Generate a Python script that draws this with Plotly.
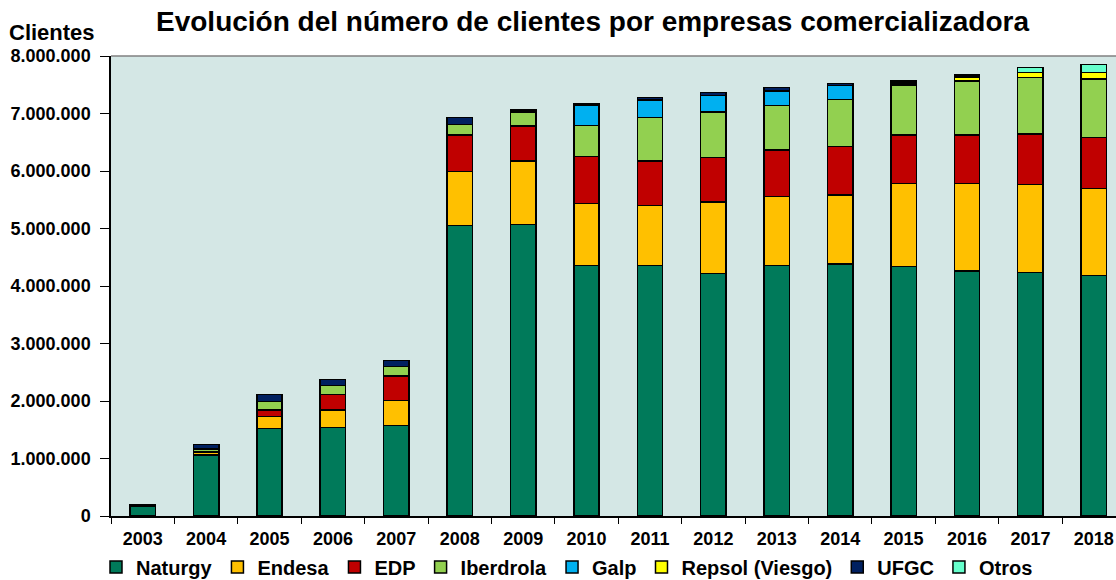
import plotly.graph_objects as go

years = [str(y) for y in range(2003, 2019)]

naturgy = [170000, 1060000, 1518000, 1543000, 1577000, 5055000, 5073000, 4360000,
           4353000, 4214000, 4360000, 4383000, 4336000, 4260000, 4238000, 4180000]
endesa = [0, 50000, 209000, 301000, 429000, 933000, 1100000, 1078000,
          1044000, 1247000, 1200000, 1200000, 1450000, 1526000, 1524000, 1519000]
edp = [0, 15000, 116000, 266000, 429000, 638000, 610000, 817000,
       777000, 777000, 805000, 840000, 840000, 840000, 881000, 887000]
iberdrola = [0, 40000, 145000, 163000, 162000, 184000, 240000, 533000,
             756000, 792000, 771000, 817000, 870000, 940000, 980000, 1014000]
galp = [0, 0, 0, 0, 0, 0, 20000, 360000,
        305000, 286000, 255000, 244000, 0, 0, 0, 0]
repsol = [0, 0, 0, 0, 0, 0, 0, 0,
          0, 0, 0, 0, 35000, 60000, 87000, 110000]
ufgc = [30000, 75000, 129000, 104000, 110000, 124000, 15000, 30000,
        45000, 46000, 58000, 41000, 20000, 10000, 0, 0]
otros = [0, 0, 0, 0, 0, 0, 0, 0,
         0, 0, 0, 0, 20000, 35000, 87000, 145000]

series = [
    ("Naturgy", naturgy, "#007A5A"),
    ("Endesa", endesa, "#FFC000"),
    ("EDP", edp, "#C00000"),
    ("Iberdrola", iberdrola, "#92D050"),
    ("Galp", galp, "#00B0F0"),
    ("Repsol (Viesgo)", repsol, "#FFFF00"),
    ("UFGC", ufgc, "#002060"),
    ("Otros", otros, "#66FFCC"),
]

font = "Liberation Sans, Arial, sans-serif"

W, H = 1116, 580
L, T, B = 111, 56, 64
plot_h = H - T - B


def py(ypix):
    return (H - B - ypix) / plot_h


fig = go.Figure()
for name, vals, color in series:
    fig.add_trace(go.Bar(
        x=years, y=vals, name=name, width=0.4,
        marker=dict(color=color, line=dict(color="black", width=1.5)),
    ))

fig.update_layout(
    width=W, height=H,
    barmode="stack",
    separators=",.",
    paper_bgcolor="white",
    plot_bgcolor="#D4E7E5",
    margin=dict(l=L, r=0, t=T, b=B, autoexpand=False),
    font=dict(family=font, color="black", size=17),
    showlegend=True,
    legend=dict(
        orientation="h", traceorder="normal",
        xref="container", yref="container",
        x=96 / W, xanchor="left", y=(H - 567) / H, yanchor="middle",
        font=dict(family=font, size=20, weight="bold"),
        itemwidth=30,
    ),
    xaxis=dict(
        type="category", range=[-0.5, 15.35],
        showline=True, linecolor="black", linewidth=1.5,
        ticks="outside", tickson="boundaries", ticklen=6, tickcolor="black",
        tickfont=dict(family=font, size=18, weight="bold"),
        ticklabelstandoff=6,
        showgrid=False,
    ),
    yaxis=dict(
        range=[0, 8000000], tickvals=[i * 1000000 for i in range(9)],
        tickformat=",d",
        showline=True, linecolor="black", linewidth=1.5,
        ticks="outside", ticklen=9, tickcolor="black",
        tickfont=dict(family=font, size=18, weight="bold"),
        ticklabelstandoff=6,
        showgrid=False, zeroline=False,
    ),
    shapes=[dict(type="line", xref="paper", yref="paper", x0=0, x1=1, y0=1, y1=1,
                 line=dict(color="#808080", width=1.5))],
    annotations=[
        dict(text="<b>Evolución del número de clientes por empresas comercializadora</b>",
             xref="paper", yref="paper", x=(592 - L) / (W - L), y=py(22),
             xanchor="center", yanchor="middle", showarrow=False,
             font=dict(family=font, size=28)),
        dict(text="<b>Clientes</b>",
             xref="paper", yref="paper", x=(52 - L) / (W - L), y=py(33),
             xanchor="center", yanchor="middle", showarrow=False,
             font=dict(family=font, size=22)),
    ],
)

fig.write_html("out.html", config={"displayModeBar": False},
               post_script="document.body.style.margin='0';")
